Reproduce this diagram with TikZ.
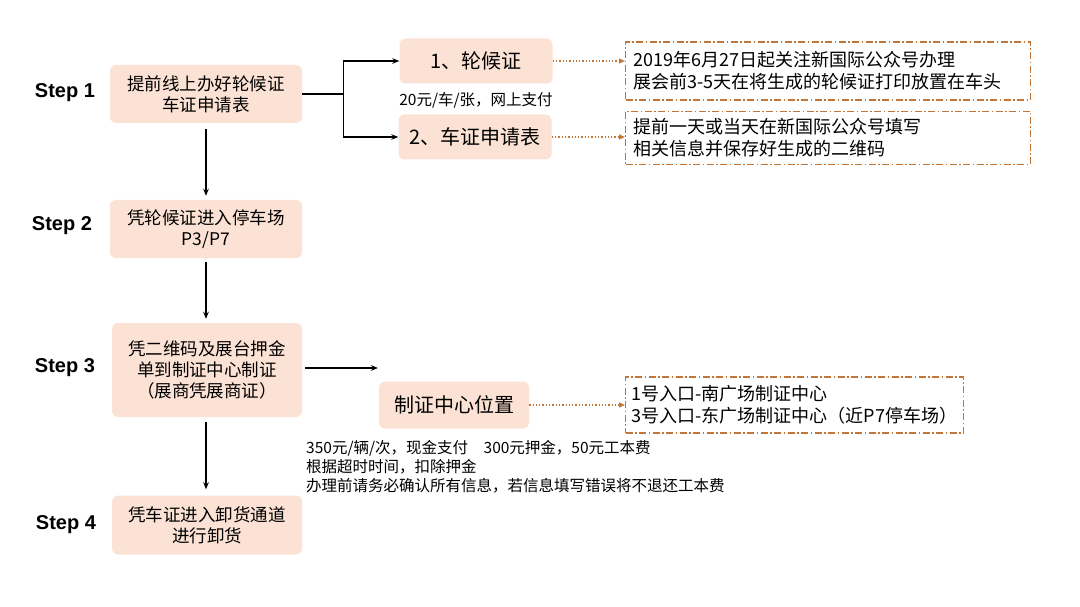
\documentclass[tikz,border=0pt]{standalone}
\usepackage{fontspec}
\setmainfont{Noto Sans CJK SC}
\newfontfamily\stepfont{Liberation Sans}
\usepackage{xcolor}
\usetikzlibrary{arrows.meta}
\definecolor{peach}{RGB}{251,226,212}
\definecolor{rust}{RGB}{193,118,58}

\begin{document}
\begin{tikzpicture}[x=1pt, y=-1pt,
    stepbox/.style={fill=peach, rounded corners=6pt, minimum width=192pt, minimum height=58pt, align=center, font=\fontsize{17.5}{21}\selectfont},
    subbox/.style={fill=peach, rounded corners=6pt, minimum width=153pt, minimum height=45pt, font=\fontsize{20}{24}\selectfont},
    infobox/.style={draw=rust, line width=1.3pt, dash pattern=on 7pt off 2.5pt on 1.5pt off 2.5pt, fill=white, anchor=west, inner xsep=8pt, align=left, font=\fontsize{18}{22}\selectfont},
    steplabel/.style={font=\stepfont\bfseries\fontsize{20}{24}\selectfont},
    note/.style={align=left, inner sep=0pt, font=\fontsize{15.5}{19}\selectfont},
    flow/.style={-{Stealth[length=7pt,width=5.5pt]}, line width=1.3pt},
    hint/.style={rust, dotted, line width=1.3pt, -{Triangle[length=6pt,width=5pt]}}]
    \useasboundingbox (0,0) rectangle (1080,607);
    % Steps
    \node[steplabel] (lab1) at (65,93) {Step 1};
    \node[steplabel] (lab2) at (62,226) {Step 2};
    \node[steplabel] (lab3) at (65,368) {Step 3};
    \node[steplabel] (lab4) at (66,525) {Step 4};
    \node[stepbox] (s1) at (206,94) {提前线上办好轮候证\\车证申请表};
    \node[stepbox] (s2) at (206,229) {凭轮候证进入停车场\\P3/P7};
    \node[stepbox, minimum width=190pt, minimum height=94pt] (s3) at (207,370) {凭二维码及展台押金\\单到制证中心制证\\（展商凭展商证）};
    \node[stepbox, minimum width=190pt, minimum height=59pt] (s4) at (207,525) {凭车证进入卸货通道\\进行卸货};
    % Sub steps
    \node[subbox] (w1) at (476,61) {1、轮候证};
    \node[subbox] (w2) at (475,137) {2、车证申请表};
    \node[subbox, minimum width=150pt, minimum height=47pt] (w3) at (454,405) {制证中心位置};
    \node[note] (fee1) at (476,100) {20元/车/张，网上支付};
    \node[note, anchor=north west] (fee3) at (306,440) {350元/辆/次，现金支付\quad 300元押金，50元工本费\\根据超时时间，扣除押金\\办理前请务必确认所有信息，若信息填写错误将不退还工本费};
    % Info boxes
    \node[infobox, text width=389pt, minimum height=58pt] (i1) at (625,71) {2019年6月27日起关注新国际公众号办理\\展会前3-5天在将生成的轮候证打印放置在车头};
    \node[infobox, text width=389pt, minimum height=53pt] (i2) at (625,138) {提前一天或当天在新国际公众号填写\\相关信息并保存好生成的二维码};
    \node[infobox, text width=326pt, inner xsep=6pt, minimum height=56pt] (i3) at (625,405) {1号入口-南广场制证中心\\3号入口-东广场制证中心（近P7停车场）};
    % Edges
    \draw[flow] (s1.east) -- ++(41,0) |- (w1.west);
    \draw[flow] (s1.east) -- ++(41,0) |- (w2.west);
    \draw[flow, shorten <=6pt, shorten >=4pt] (s1.south) -- (s2.north);
    \draw[flow, shorten <=4pt, shorten >=4pt] (s2.south) -- (s2.south |- s3.north);
    \draw[flow, shorten <=5pt, shorten >=6pt] (s2.south |- s3.south) -- (s2.south |- s4.north);
    \coordinate (c3) at (378,368);
    \draw[flow, shorten <=3pt] (s3.east |- c3) -- (c3);
    % Hints
    \draw[hint] (w1.east) -- (i1.west |- w1);
    \draw[hint] (w2.east) -- (i2.west |- w2);
    \draw[hint] (w3.east) -- (i3.west |- w3);
\end{tikzpicture}
\end{document}
